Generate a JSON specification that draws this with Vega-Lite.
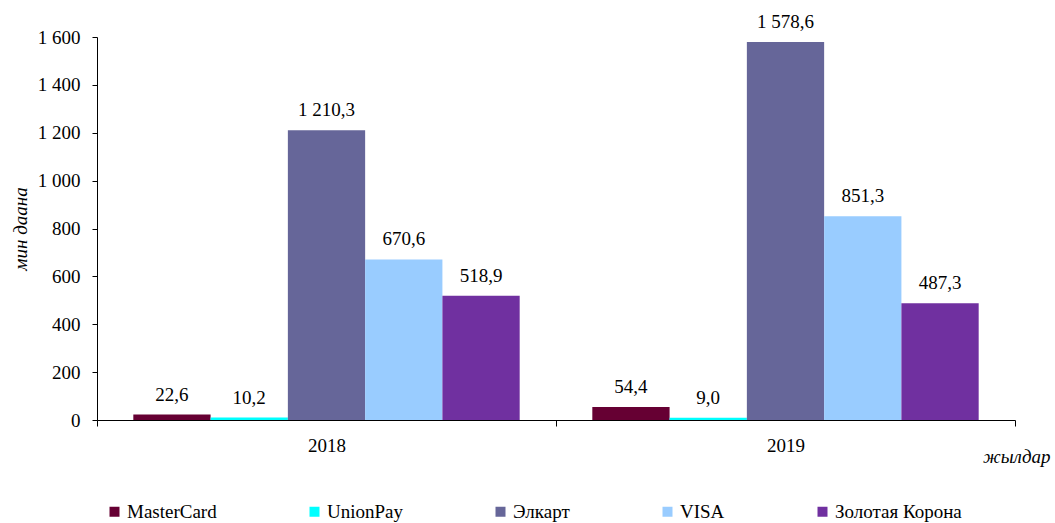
{
  "$schema": "https://vega.github.io/schema/vega-lite/v6.json",
  "width": 918,
  "height": 383,
  "autosize": {"type": "none"},
  "padding": {"left": 97, "top": 37, "right": 40, "bottom": 103},
  "background": "white",
  "config": {
    "view": {"stroke": null},
    "font": "'Liberation Serif', 'DejaVu Serif', serif",
    "text": {"font": "'Liberation Serif', 'DejaVu Serif', serif"},
    "axis": {"labelFont": "'Liberation Serif', 'DejaVu Serif', serif", "titleFont": "'Liberation Serif', 'DejaVu Serif', serif", "labelColor": "black", "titleColor": "black", "domainColor": "black", "tickColor": "black", "labelFontSize": 19, "titleFontSize": 19, "titleFontWeight": "normal", "titleFontStyle": "italic", "grid": false},
    "legend": {"labelFont": "'Liberation Serif', 'DejaVu Serif', serif", "labelFontSize": 19, "labelColor": "black"}
  },
  "data": {
    "values": [
      {"year": "2018", "series": "MasterCard", "value": 22.6},
      {"year": "2018", "series": "UnionPay", "value": 10.2},
      {"year": "2018", "series": "Элкарт", "value": 1210.3},
      {"year": "2018", "series": "VISA", "value": 670.6},
      {"year": "2018", "series": "Золотая Корона", "value": 518.9},
      {"year": "2019", "series": "MasterCard", "value": 54.4},
      {"year": "2019", "series": "UnionPay", "value": 9.0},
      {"year": "2019", "series": "Элкарт", "value": 1578.6},
      {"year": "2019", "series": "VISA", "value": 851.3},
      {"year": "2019", "series": "Золотая Корона", "value": 487.3}
    ]
  },
  "transform": [
    {"calculate": "replace(replace(format(datum.value, ',.1f'), ',', ' '), '.', ',')", "as": "label"}
  ],
  "encoding": {
    "x": {
      "field": "year", "type": "nominal",
      "scale": {"paddingInner": 0, "paddingOuter": 0},
      "axis": {"title": "жылдар", "labelAngle": 0, "tickBand": "extent", "tickSize": 6, "labelPadding": 10, "titleAnchor": "end", "titleAlign": "right", "titleX": 953, "titleY": 36, "titleBaseline": "middle"}
    },
    "xOffset": {
      "field": "series", "type": "nominal",
      "sort": ["MasterCard", "UnionPay", "Элкарт", "VISA", "Золотая Корона"],
      "scale": {"paddingInner": 0, "paddingOuter": 0.47}
    },
    "y": {
      "field": "value", "type": "quantitative",
      "scale": {"domain": [0, 1600], "nice": false},
      "axis": {"title": "мин даана", "values": [0, 200, 400, 600, 800, 1000, 1200, 1400, 1600], "labelExpr": "replace(format(datum.value, ',d'), ',', ' ')", "tickSize": 5, "labelPadding": 12, "titleAngle": -90, "titleX": -77, "titleBaseline": "middle"}
    }
  },
  "layer": [
    {
      "mark": {"type": "bar"},
      "encoding": {
        "color": {
          "field": "series", "type": "nominal",
          "scale": {"domain": ["MasterCard", "UnionPay", "Элкарт", "VISA", "Золотая Корона"], "range": ["#660033", "#00FFFF", "#666699", "#99CCFF", "#7030A0"]},
          "legend": {"title": null, "orient": "none", "legendX": 8, "legendY": 465, "direction": "horizontal", "columns": 5, "columnPadding": 88, "symbolType": "square", "symbolSize": 100, "symbolStrokeWidth": 0, "labelOffset": 3}
        }
      }
    },
    {
      "mark": {"type": "text", "baseline": "bottom", "dy": -10, "fontSize": 19, "color": "black"},
      "encoding": {"text": {"field": "label"}}
    }
  ]
}
